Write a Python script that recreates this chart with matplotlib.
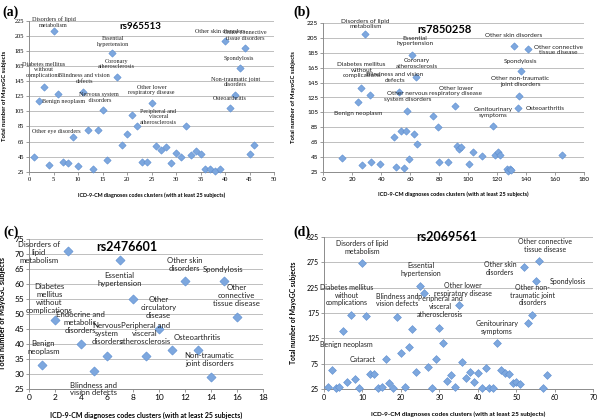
import matplotlib
matplotlib.use("Agg")
import matplotlib.pyplot as plt

# ---------------- data ----------------
a_x = list(range(1, 47))
a_y = [45, 119, 138, 34, 212, 128, 38, 36, 71, 32, 131, 80, 29, 80, 107, 41, 182, 151,
       61, 75, 100, 86, 38, 38, 116, 59, 54, 58, 36, 50, 45, 86, 47, 53, 48, 29, 28, 26,
       28, 199, 110, 127, 163, 189, 48, 60]

b_x = [13, 24, 26, 27, 29, 32, 33, 39, 49, 50, 52, 54, 56, 57, 58, 59, 61, 63, 64, 65,
       76, 79, 80, 86, 91, 92.5, 93.5, 95.5, 100.5, 103.5, 109.5, 117.5, 118.5, 120.5,
       122, 127, 128, 129, 130, 131.5, 134.5, 135, 136.5, 141.5, 165]
b_y = [43, 119, 138, 34, 211, 129, 38, 35, 72, 32, 132, 80, 30, 80, 107, 42, 182, 76,
       152, 62, 100, 85, 38, 38.5, 114, 59, 55, 58, 35, 51, 46, 86, 48, 52, 48, 28, 26,
       29, 27, 195, 111, 127, 161, 190, 48]

c_x = list(range(1, 17))
c_y = [33, 48, 71, 40, 31, 36, 68, 55, 36, 45, 38, 61, 38, 29, 61, 49]

d_x = list(range(1, 59))
d_y = [28, 62, 27, 28, 140, 38, 171, 44, 26, 273, 170, 55, 55, 27, 28, 85, 36, 26, 168,
       97, 28, 108, 143, 59, 228, 215, 68, 26, 84, 146, 116, 40, 53, 28, 191, 78, 47, 58,
       38, 56, 27, 66, 26, 27, 115, 62, 56, 55, 36, 38, 34, 265, 156, 171, 239, 278, 26, 53]

titles = ["rs965513", "rs7850258", "rs2476601", "rs2069561"]
letters = ["(a)", "(b)", "(c)", "(d)"]

a_labels = [("Disorders of lipid\nmetabolism", 5, 223.5), ("Essential\nhypertension", 17.1, 198),
            ("Coronary\natherosclerosis", 17.9, 168), ("Diabetes mellitus\nwithout\ncomplications", 2.9, 160),
            ("Blindness and vision\ndefects", 11.3, 148.5), ("Nervous system\n disorders", 14.3, 123.7),
            ("Benign neoplasm", 7, 118.8), ("Other lower\nrespiratory disease", 25, 133.4),
            ("Peripheral and\nvisceral\natherosclerosis", 26.4, 98), ("Other eye disorders", 5.6, 78.5),
            ("Other skin disorders", 39, 210.8), ("Other connective\ntissue disorders", 44.2, 206),
            ("Spondylosis", 42.9, 175), ("Non-traumatic joint\ndisorders", 42.1, 144),
            ("Osteoarthritis", 41, 122)]
b_labels = [("Disorders of lipid\nmetabolism", 29.3, 224), ("Essential\nhypertension", 63.4, 201),
            ("Coronary\natherosclerosis", 64.5, 171), ("Diabetes mellitus\nwithout\ncomplications", 26.5, 162),
            ("Blindness and vision\ndefects", 49.5, 151.7), ("Other nervous\nsystem disorders", 58.3, 126),
            ("Benign neoplasm", 24.2, 102.8), ("Other lower\nrespiratory disease", 91.7, 134),
            ("Other skin disorders", 131.4, 209), ("Other connective\ntissue disease", 162.5, 189),
            ("Spondylosis", 136.4, 174), ("Other non-traumatic\njoint disorders", 136, 146.8),
            ("Genitourinary\nsymptoms", 117.5, 105), ("Osteoarthritis", 153.7, 110)]
c_labels = [("Disorders of\nlipid\nmetabolism", 0.75, 70.4), ("Essential\nhypertension", 6.96, 61.6),
            ("Diabetes\nmellitus\nwithout\ncomplications", 1.57, 55.2),
            ("Endocrine and\nmetabolic\ndisorders", 3.93, 47.3), ("Nervous\nsystem\ndisorders", 6.0, 43.5),
            ("Peripheral and\nvisceral\natherosclerosis", 8.94, 43.5), ("Other\ncirculatory\ndisease", 9.96, 52.3),
            ("Other skin\ndisorders", 11.97, 66.5), ("Spondylosis", 14.97, 64.9),
            ("Other\nconnective\ntissue disease", 16, 56.3), ("Osteoarthritis", 12.97, 42.2),
            ("Non-traumatic\njoint disorders", 13.9, 34.9), ("Benign\nneoplasm", 1.1, 38.9),
            ("Blindness and\nvision defects", 4.96, 25)]
d_labels = [("Disorders of lipid\nmetabolism", 10, 304.6), ("Other connective\ntissue disease", 57.5, 309),
            ("Other skin\ndisorders", 45.8, 263), ("Essential\nhypertension", 25.1, 260),
            ("Spondylosis", 63.5, 237), ("Other non-\ntraumatic joint\ndisorders", 54.2, 210.5),
            ("Diabetes mellitus\nwithout\ncomplications", 5.9, 210.5), ("Blindness and\nvision defects", 19.1, 200.7),
            ("Other lower\nrespiratory disease", 36.2, 222), ("Peripheral and\nvisceral\natherosclerosis", 30.2, 187.5),
            ("Genitourinary\nsymptoms", 45, 146.7), ("Benign neoplasm", 5.9, 113), ("Cataract", 10.2, 83.5)]

# ---------------- layout ----------------
W, H = 600, 419
fig = plt.figure(figsize=(6.0, 4.19), dpi=100)

def axes_px(l, r, t, b):
    return fig.add_axes([l / W, 1 - b / H, (r - l) / W, (b - t) / H])

panels = [
    dict(x=a_x, y=a_y, labels=a_labels, box=(29, 274, 21, 171.7), xlim=(0, 50), xstep=5,
         ylim=(25, 225), ystep=20, lab_fs=4.4, lab_font="Liberation Serif", tick_fs=4.6,
         tick_font="Liberation Serif", ax_fs=3.9, title_fs=7.0, title_pos=(22.7, 217.5), ms=14,
         ylab_x=-0.089, xlab_y=-0.135, letter_px=(2, 12)),
    dict(x=b_x, y=b_y, labels=b_labels, box=(323.3, 583.7, 23.3, 171.7), xlim=(0, 180), xstep=20,
         ylim=(25, 225), ystep=20, lab_fs=4.6, lab_font="Lato", tick_fs=4.6,
         tick_font="Lato", ax_fs=4.0, title_fs=8.0, title_pos=(84, 217), ms=14,
         ylab_x=-0.105, xlab_y=-0.135, letter_px=(293, 12)),
    dict(x=c_x, y=c_y, labels=c_labels, box=(29, 262.7, 239, 389), xlim=(0, 18), xstep=2,
         ylim=(25, 75), ystep=5, lab_fs=5.6, lab_font="Lato", tick_fs=6.0,
         tick_font="Lato", ax_fs=5.0, title_fs=9.0, title_pos=(7.5, 72.2), ms=22,
         ylab_x=-0.098, xlab_y=-0.15, letter_px=(3, 232)),
    dict(x=d_x, y=d_y, labels=d_labels, box=(324, 593.3, 237, 389), xlim=(0, 70), xstep=10,
         ylim=(25, 325), ystep=50, lab_fs=5.0, lab_font="Lato", tick_fs=5.0,
         tick_font="Lato", ax_fs=4.6, title_fs=9.0, title_pos=(31.9, 325.6), ms=16,
         ylab_x=-0.1, xlab_y=-0.15, letter_px=(293, 232)),
]

grid_c = "#BEBEBE"
for i, p in enumerate(panels):
    ax = axes_px(*p["box"])
    ax.set_xlim(*p["xlim"])
    ax.set_ylim(*p["ylim"])
    ax.set_xticks(range(p["xlim"][0], p["xlim"][1] + 1, p["xstep"]))
    ax.set_yticks(range(p["ylim"][0], p["ylim"][1] + 1, p["ystep"]))
    ax.grid(axis="y", color=grid_c, lw=0.7)
    ax.set_axisbelow(True)
    for s in ["top", "right"]:
        ax.spines[s].set_visible(False)
    for s in ["left", "bottom"]:
        ax.spines[s].set_color("#8C8C8C")
        ax.spines[s].set_linewidth(0.7)
    ax.tick_params(length=2, width=0.6, color="#8C8C8C", pad=1.5, labelsize=p["tick_fs"])
    for lab in ax.get_xticklabels() + ax.get_yticklabels():
        lab.set_fontfamily(p["tick_font"])
    ax.scatter(p["x"], p["y"], marker="D", s=p["ms"], facecolor="#7DA7DE",
               edgecolor="#5C8ED0", linewidths=0.4, zorder=3, clip_on=False)
    for txt, tx, ty in p["labels"]:
        ax.text(tx, ty, txt, ha="center", va="center", fontsize=p["lab_fs"],
                family=p["lab_font"], color="#222222", linespacing=1.15, zorder=4, clip_on=False)
    ax.text(p["title_pos"][0], p["title_pos"][1], titles[i], ha="center", va="center",
            fontsize=p["title_fs"], family="Lato", fontweight="bold", zorder=5)
    ax.set_xlabel("ICD-9-CM diagnoses codes clusters (with at least 25 subjects)",
                  fontsize=p["ax_fs"], fontweight="bold", family="Lato")
    ax.set_ylabel("Total number of MayoGC subjects", fontsize=p["ax_fs"] + 0.3,
                  fontweight="bold", family="Lato")
    ax.xaxis.set_label_coords(0.5, p["xlab_y"])
    ax.yaxis.set_label_coords(p["ylab_x"], 0.5)
    fig.text(p["letter_px"][0] / W, 1 - p["letter_px"][1] / H, letters[i],
             fontsize=10, fontweight="bold", family="Liberation Serif", ha="left", va="center")

fig.savefig("out.png", dpi=100)
